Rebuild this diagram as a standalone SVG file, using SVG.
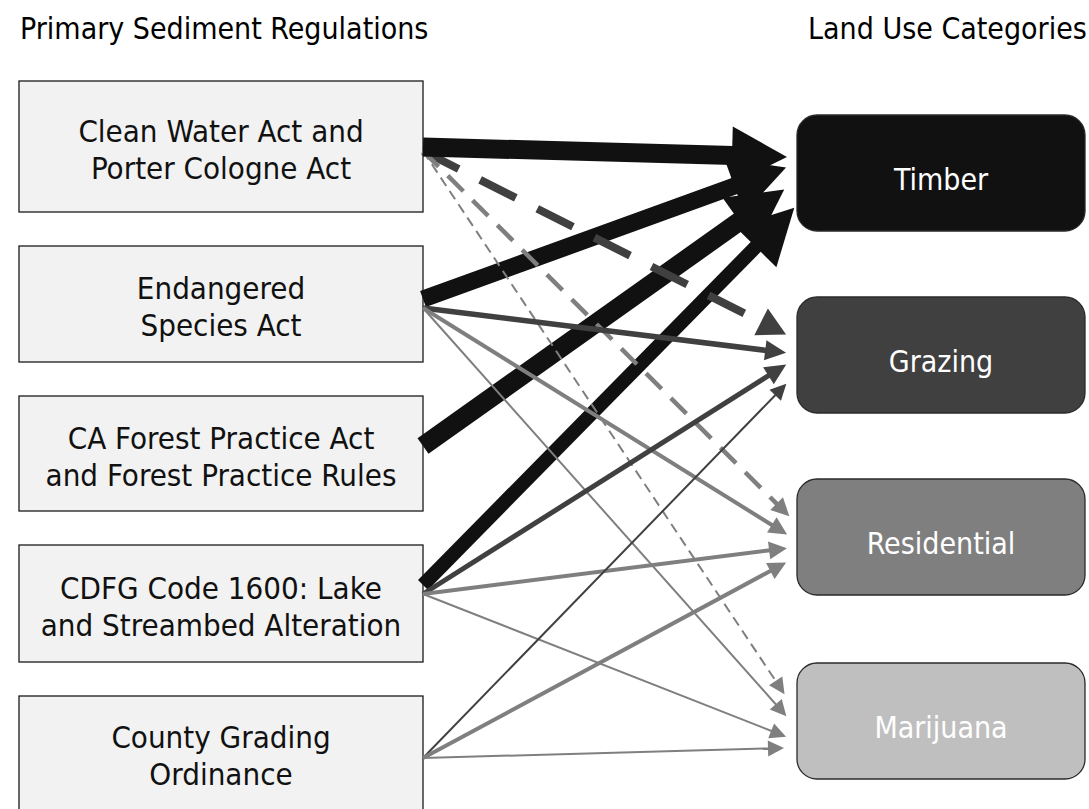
<svg xmlns="http://www.w3.org/2000/svg" width="1089" height="809" viewBox="0 0 1089 809">
  <style>
    text { font-family: "DejaVu Sans Condensed", "DejaVu Sans", sans-serif; }
    .title { font-size: 30px; fill: #000000; }
    .reg rect { fill: #f2f2f2; stroke: #1a1a1a; stroke-width: 1.3; }
    .reg text { font-size: 31px; fill: #111111; text-anchor: middle; }
    .use rect { stroke: #2a2a2a; stroke-width: 1.3; }
    .use text { font-size: 30px; fill: #ffffff; text-anchor: middle; }
    .edge { fill: none; stroke-linecap: butt; }
    .k { stroke: #111111; }
    .d { stroke: #404040; }
    .g { stroke: #7f7f7f; }
  </style>
  <defs>
    <marker id="hBlack" markerUnits="userSpaceOnUse" viewBox="0 0 56 60" markerWidth="56" markerHeight="60" refX="1" refY="30" orient="auto" overflow="visible">
      <path d="M0,1 L55,30 L0,59 z" fill="#111111"/>
    </marker>
    <marker id="hDarkWide" markerUnits="userSpaceOnUse" viewBox="0 0 29 32" markerWidth="29" markerHeight="32" refX="1" refY="16" orient="auto" overflow="visible">
      <path d="M0,1 L28,16 L0,31 z" fill="#404040"/>
    </marker>
    <marker id="hDark" markerUnits="userSpaceOnUse" viewBox="0 0 22 20" markerWidth="22" markerHeight="20" refX="1" refY="10" orient="auto" overflow="visible">
      <path d="M0,0 L21,10 L0,20 z" fill="#404040"/>
    </marker>
    <marker id="hDarkThin" markerUnits="userSpaceOnUse" viewBox="0 0 17 16" markerWidth="17" markerHeight="16" refX="1" refY="8" orient="auto" overflow="visible">
      <path d="M0,0 L16,8 L0,16 z" fill="#404040"/>
    </marker>
    <marker id="hGray" markerUnits="userSpaceOnUse" viewBox="0 0 19 18" markerWidth="19" markerHeight="18" refX="1" refY="9" orient="auto" overflow="visible">
      <path d="M0,0 L18,9 L0,18 z" fill="#7f7f7f"/>
    </marker>
    <marker id="hGrayThin" markerUnits="userSpaceOnUse" viewBox="0 0 17 16" markerWidth="17" markerHeight="16" refX="1" refY="8" orient="auto" overflow="visible">
      <path d="M0,0 L16,8 L0,16 z" fill="#7f7f7f"/>
    </marker>
  </defs>

  <rect width="1089" height="809" fill="#ffffff"/>

  <!-- column headings -->
  <text class="title" x="20" y="39">Primary Sediment Regulations</text>
  <text class="title" x="808" y="39">Land Use Categories</text>

  <!-- regulations -->
  <g id="node-cwa" class="reg">
    <rect x="19" y="81" width="404" height="131"/>
    <text x="221" y="141.5">Clean Water Act and</text>
    <text x="221" y="178.5">Porter Cologne Act</text>
  </g>
  <g id="node-esa" class="reg">
    <rect x="19" y="246" width="404" height="116"/>
    <text x="221" y="299">Endangered</text>
    <text x="221" y="336">Species Act</text>
  </g>
  <g id="node-fpa" class="reg">
    <rect x="19" y="396" width="404" height="115"/>
    <text x="221" y="448.5">CA Forest Practice Act</text>
    <text x="221" y="485.5">and Forest Practice Rules</text>
  </g>
  <g id="node-cdfg" class="reg">
    <rect x="19" y="545" width="404" height="117"/>
    <text x="221" y="598.5">CDFG Code 1600: Lake</text>
    <text x="221" y="635.5">and Streambed Alteration</text>
  </g>
  <g id="node-county" class="reg">
    <rect x="19" y="696" width="404" height="116"/>
    <text x="221" y="747.5">County Grading</text>
    <text x="221" y="785">Ordinance</text>
  </g>

  <!-- land use categories -->
  <g id="node-timber" class="use">
    <rect x="797" y="115" width="288" height="116" rx="20" fill="#111111"/>
    <text x="941" y="190">Timber</text>
  </g>
  <g id="node-grazing" class="use">
    <rect x="797" y="297" width="288" height="116" rx="20" fill="#404040"/>
    <text x="941" y="372">Grazing</text>
  </g>
  <g id="node-residential" class="use">
    <rect x="797" y="479" width="288" height="116" rx="20" fill="#7f7f7f"/>
    <text x="941" y="554">Residential</text>
  </g>
  <g id="node-marijuana" class="use">
    <rect x="797" y="663" width="288" height="116" rx="20" fill="#bfbfbf"/>
    <text x="941" y="738">Marijuana</text>
  </g>

  <!-- links: regulation -> land use; weight shown by width and shade -->
  <g id="connectors">
    <path class="edge k" stroke-width="17" d="M423,299 L735.3,185.8" marker-end="url(#hBlack)"/>
    <path class="edge k" stroke-width="19" d="M423,446 L740.2,220.8" marker-end="url(#hBlack)"/>
    <path class="edge k" stroke-width="14" d="M423,585 L756.4,246.2" marker-end="url(#hBlack)"/>

    <path class="edge d" stroke-width="8" stroke-dasharray="40 24" d="M423,151 L762,322.3" marker-end="url(#hDarkWide)"/>
    <path class="edge g" stroke-width="4.5" stroke-dasharray="22 13" d="M423,151 L777.3,504.3" marker-end="url(#hGray)"/>
    <path class="edge g" stroke-width="2" stroke-dasharray="10 6" d="M423,151 L776.2,681.7" marker-end="url(#hGrayThin)"/>

    <path class="edge d" stroke-width="5.5" d="M423,308 L766.2,350.4" marker-end="url(#hDark)"/>
    <path class="edge g" stroke-width="4" d="M423,308 L772.7,525.5" marker-end="url(#hGray)"/>
    <path class="edge g" stroke-width="2" d="M423,308 L776.4,705" marker-end="url(#hGrayThin)"/>

    <path class="edge d" stroke-width="5" d="M423,594 L769.3,375.2" marker-end="url(#hDark)"/>
    <path class="edge g" stroke-width="4" d="M423,594 L770.1,550.3" marker-end="url(#hGray)"/>
    <path class="edge g" stroke-width="2" d="M423,594 L772.1,731.2" marker-end="url(#hGrayThin)"/>

    <path class="edge d" stroke-width="2" d="M423,758 L775.9,394.5" marker-end="url(#hDarkThin)"/>
    <path class="edge g" stroke-width="4" d="M423,758 L771.2,570.5" marker-end="url(#hGray)"/>
    <path class="edge g" stroke-width="2" d="M423,758 L769,748.4" marker-end="url(#hGrayThin)"/>

    <path class="edge k" stroke-width="19" d="M423,147 L733,155.5" marker-end="url(#hBlack)"/>
  </g>
</svg>
